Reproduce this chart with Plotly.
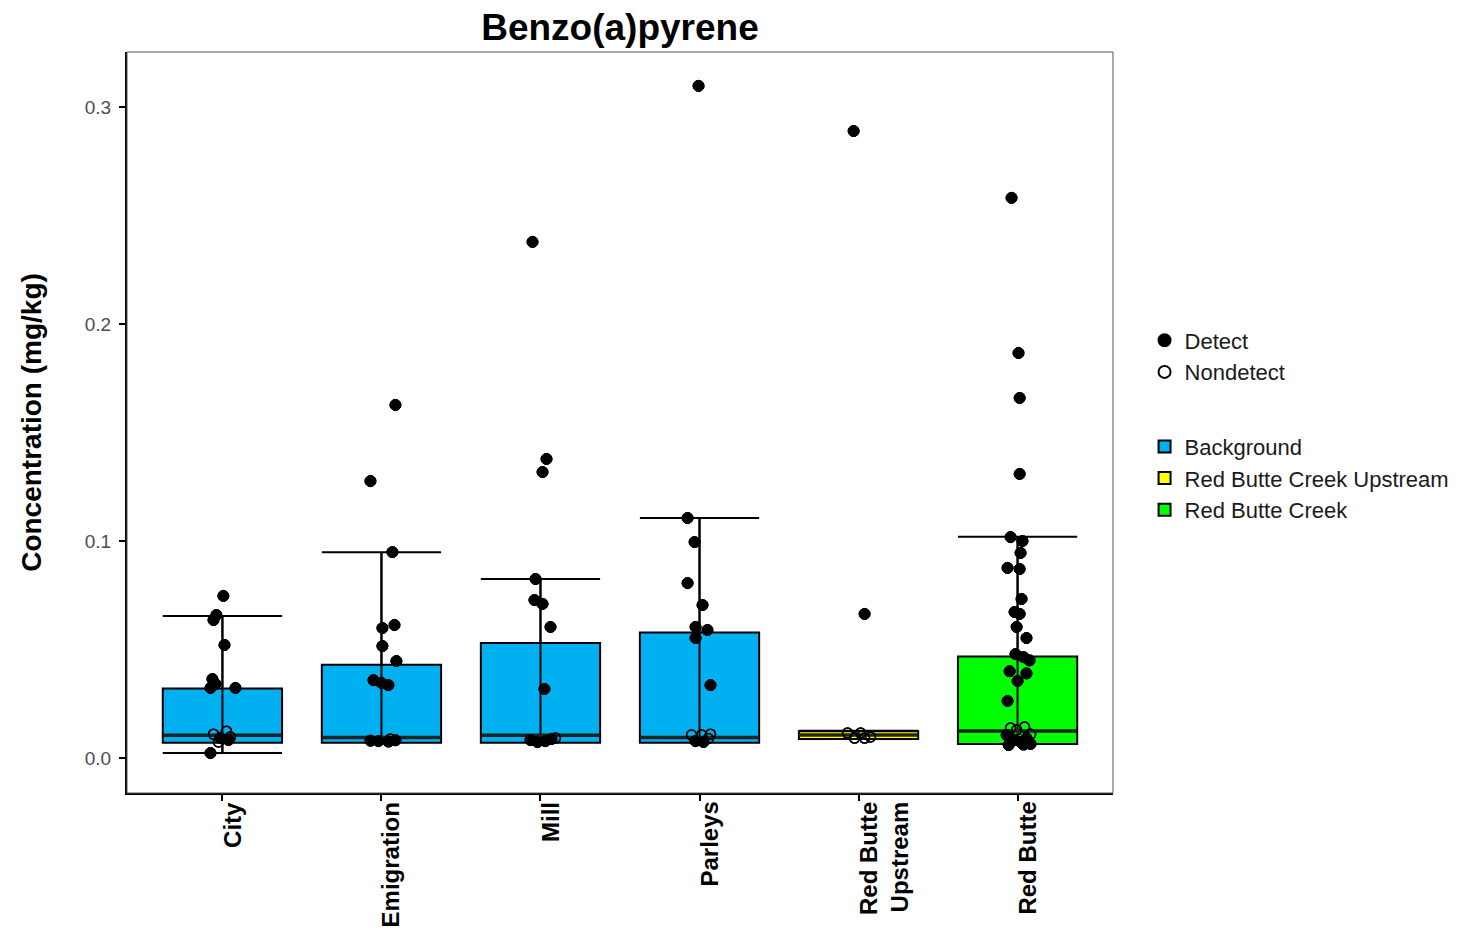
import plotly.graph_objects as go

# ---------------- data ----------------
sites = ["City", "Emigration", "Mill", "Parleys", "Red Butte<br>Upstream", "Red Butte"]
site_group = ["Background", "Background", "Background", "Background",
              "Red Butte Creek Upstream", "Red Butte Creek"]
groups = ["Background", "Red Butte Creek Upstream", "Red Butte Creek"]
group_colors = {"Background": "#00B0F0", "Red Butte Creek Upstream": "#FFFF00",
                "Red Butte Creek": "#00FF00"}

q1 = [0.0070, 0.0070, 0.0070, 0.0070, 0.0088, 0.0065]
median = [0.0105, 0.0095, 0.0105, 0.0095, 0.0106, 0.0125]
q3 = [0.0320, 0.0430, 0.0530, 0.0578, 0.0123, 0.0468]
lower = [0.0023, 0.0070, 0.0070, 0.0070, 0.0088, 0.0065]
upper = [0.0655, 0.0948, 0.0825, 0.1106, 0.0126, 0.1020]

# detects / nondetects per site (values, jitter offsets)
city_det = [0.0747, 0.0659, 0.0636, 0.0521, 0.0364, 0.0341, 0.0323, 0.0323, 0.0092, 0.0083, 0.0023]
city_det_j = [0.006, -0.038, -0.056, 0.013, -0.063, -0.044, -0.075, 0.082, -0.013, 0.038, -0.075]
city_nd = [0.0124, 0.0110, 0.0097, 0.0074]
city_nd_j = [0.025, -0.056, 0.050, -0.025]

emig_det = [0.1627, 0.1276, 0.0949, 0.0613, 0.0599, 0.0516, 0.0447, 0.0359, 0.0346, 0.0336,
            0.0080, 0.0078, 0.0076, 0.0082]
emig_det_j = [0.088, -0.069, 0.069, 0.082, 0.006, 0.006, 0.094, -0.050, 0.0, 0.044,
              -0.069, -0.019, 0.044, 0.088]
emig_nd = [0.0088]
emig_nd_j = [0.056]

mill_det = [0.2378, 0.1378, 0.1318, 0.0825, 0.0728, 0.0710, 0.0604, 0.0318, 0.0083, 0.0074, 0.0078, 0.0088]
mill_det_j = [-0.050, 0.038, 0.013, -0.031, -0.038, 0.013, 0.063, 0.025, -0.063, -0.019, 0.031, 0.069]
mill_nd = [0.0092]
mill_nd_j = [0.094]

parl_det = [0.3097, 0.1106, 0.0995, 0.0806, 0.0705, 0.0604, 0.0590, 0.0553, 0.0336, 0.0078, 0.0074]
parl_det_j = [-0.006, -0.075, -0.031, -0.075, 0.019, -0.025, 0.050, -0.025, 0.069, -0.025, 0.025]
parl_nd = [0.0106, 0.0106, 0.0110, 0.0090]
parl_nd_j = [-0.050, 0.013, 0.069, 0.056]

rbu_det = [0.2889, 0.0664]
rbu_det_j = [-0.031, 0.038]
rbu_nd = [0.0115, 0.0092, 0.0115, 0.0092, 0.0097]
rbu_nd_j = [-0.069, -0.025, 0.013, 0.038, 0.075]

rb_det = [0.2581, 0.1866, 0.1659, 0.1309, 0.1018, 0.1000, 0.0945, 0.0876, 0.0871, 0.0733,
          0.0673, 0.0664, 0.0604, 0.0553, 0.0479, 0.0465, 0.0450, 0.0400, 0.0390, 0.0355,
          0.0263, 0.0106, 0.0083, 0.0074, 0.0092, 0.0065, 0.0060, 0.0062]
rb_det_j = [-0.038, 0.006, 0.013, 0.013, -0.044, 0.031, 0.019, -0.063, 0.013, 0.025,
            -0.019, 0.013, -0.006, 0.056, -0.013, 0.038, 0.075, -0.050, 0.056, 0.0,
            -0.063, -0.069, -0.025, 0.019, 0.056, 0.082, -0.056, 0.038]
rb_nd = [0.0138, 0.0143, 0.0129, 0.0110]
rb_nd_j = [-0.044, 0.044, -0.006, 0.082]

det_vals = [city_det, emig_det, mill_det, parl_det, rbu_det, rb_det]
det_jit = [city_det_j, emig_det_j, mill_det_j, parl_det_j, rbu_det_j, rb_det_j]
nd_vals = [city_nd, emig_nd, mill_nd, parl_nd, rbu_nd, rb_nd]
nd_jit = [city_nd_j, emig_nd_j, mill_nd_j, parl_nd_j, rbu_nd_j, rb_nd_j]

yticks = [0.0, 0.1, 0.2, 0.3]
ytick_text = ["0.0", "0.1", "0.2", "0.3"]

# ---------------- figure ----------------
FONT = "Liberation Sans, Arial, sans-serif"
BOX_W = 0.75
fig = go.Figure()


def pts(vals, jits):
    xs, ys = [], []
    for i, (v, j) in enumerate(zip(vals, jits)):
        for vv, jj in zip(v, j):
            xs.append(i + jj)
            ys.append(vv)
    return xs, ys


dx, dy = pts(det_vals, det_jit)
nx, ny = pts(nd_vals, nd_jit)

fig.add_trace(go.Scatter(x=dx, y=dy, mode="markers", name="Detect",
                         marker=dict(symbol="circle", size=11, color="black",
                                     line=dict(color="black", width=1)),
                         legendgroup="pts", legendrank=1))
fig.add_trace(go.Scatter(x=nx, y=ny, mode="markers", name="Nondetect",
                         marker=dict(symbol="circle-open", size=10, color="black",
                                     line=dict(color="black", width=1.5)),
                         legendgroup="pts", legendrank=2))

for gi, g in enumerate(groups):
    idx = [i for i, s in enumerate(site_group) if s == g]
    fig.add_trace(go.Box(
        x=idx,
        q1=[q1[i] for i in idx], median=[median[i] for i in idx], q3=[q3[i] for i in idx],
        lowerfence=[lower[i] for i in idx], upperfence=[upper[i] for i in idx],
        name=g, fillcolor=group_colors[g],
        line=dict(color="black", width=2),
        whiskerwidth=1, width=BOX_W, boxpoints=False,
        legendgroup="box", legendrank=10 + gi, hoverinfo="skip"))

# whisker line continuing through the box (errorbar style)
wx, wy = [], []
for i in range(len(sites)):
    wx += [i, i, None]
    wy += [lower[i], upper[i], None]
fig.add_trace(go.Scatter(x=wx, y=wy, mode="lines", line=dict(color="black", width=2),
                         showlegend=False, hoverinfo="skip"))
# thick median lines
mx, my = [], []
for i in range(len(sites)):
    mx += [i - BOX_W / 2, i + BOX_W / 2, None]
    my += [median[i], median[i], None]
fig.add_trace(go.Scatter(x=mx, y=my, mode="lines", line=dict(color="#222222", width=3.5),
                         showlegend=False, hoverinfo="skip"))
# points on top
fig.add_trace(go.Scatter(x=dx, y=dy, mode="markers", showlegend=False,
                         marker=dict(symbol="circle", size=11, color="black",
                                     line=dict(color="black", width=1))))
fig.add_trace(go.Scatter(x=nx, y=ny, mode="markers", showlegend=False,
                         marker=dict(symbol="circle-open", size=10, color="black",
                                     line=dict(color="black", width=1.5))))

W, H = 1459, 925
fig.update_layout(
    width=W, height=H,
    margin=dict(l=119, r=354, t=44, b=140, autoexpand=False),
    paper_bgcolor="white", plot_bgcolor="white",
    boxmode="overlay",
    font=dict(family=FONT, color="black"),
    title=dict(text="<b>Benzo(a)pyrene</b>", x=0.5, xref="paper", xanchor="center",
               y=1 - 19 / H, yanchor="middle", font=dict(size=37, color="black")),
    legend=dict(x=1.032, xanchor="left", y=0.639, yanchor="top",
                font=dict(size=22, color="#1a1a1a"), tracegroupgap=43,
                itemsizing="constant", bgcolor="rgba(0,0,0,0)"),
    showlegend=True,
)

fig.update_xaxes(
    range=[-0.6, 5.6], tickmode="array", tickvals=list(range(len(sites))),
    showticklabels=False,
    ticks="outside", ticklen=6, tickwidth=1.5, tickcolor="black",
    showline=True, linecolor="black", linewidth=2, mirror=False,
    showgrid=False, zeroline=False,
)
fig.update_yaxes(
    range=[-0.0161, 0.3253], tickmode="array", tickvals=yticks, ticktext=ytick_text,
    tickfont=dict(size=19, color="#4d4d4d"), ticklabelstandoff=4,
    ticks="outside", ticklen=6, tickwidth=1.5, tickcolor="black",
    showline=True, linecolor="black", linewidth=2, mirror=False,
    showgrid=False, zeroline=False,
    title=dict(text="<b>Concentration (mg/kg)</b>", font=dict(size=28, color="black"),
               standoff=35),
)

# rotated category labels (top-aligned, left edge at tick)
for i, s in enumerate(sites):
    fig.add_annotation(x=i, xref="x", y=0, yref="paper", text="<b>" + s + "</b>",
                       textangle=-90, xanchor="left", yanchor="top", align="right",
                       yshift=-7, xshift=-6, showarrow=False,
                       font=dict(size=24, color="black", family=FONT))

# panel border (top/right)
fig.add_shape(type="rect", xref="paper", yref="paper", x0=0, y0=0, x1=1, y1=1,
              line=dict(color="#555555", width=1), fillcolor="rgba(0,0,0,0)", layer="above")

fig.write_html("out.html")
